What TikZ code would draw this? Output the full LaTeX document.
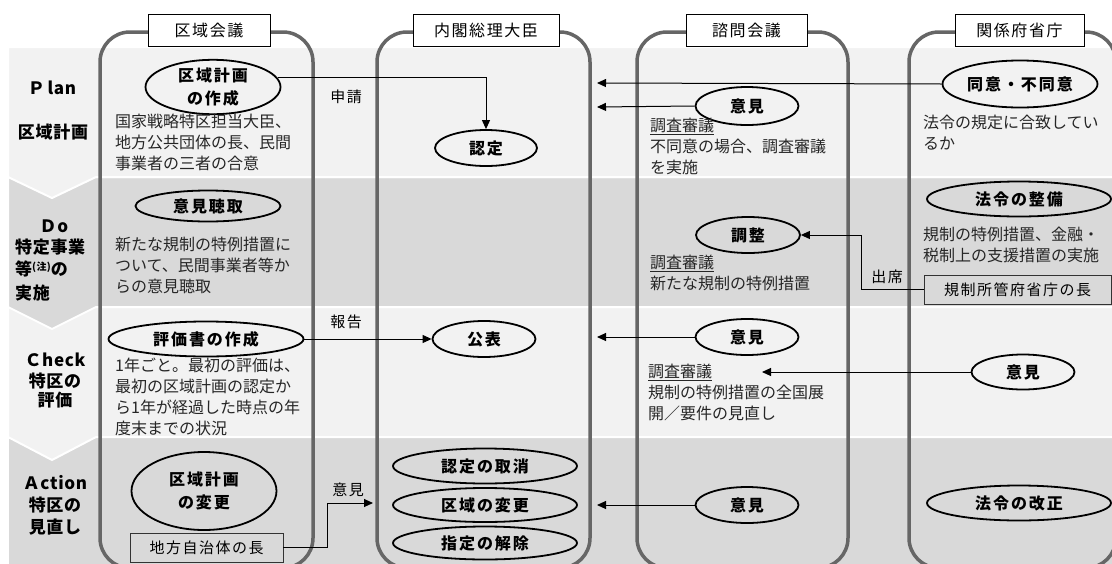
\documentclass[tikz,border=0pt]{standalone}
\usepackage{fontspec}
\setmainfont{Noto Sans CJK JP}
\newfontfamily\jpsp[LetterSpace=10]{Noto Sans CJK JP}
\newfontfamily\jplab[LetterSpace=4]{Noto Sans CJK JP}
\newfontfamily\jpwide[LetterSpace=12]{Noto Sans CJK JP}
\usetikzlibrary{shapes.geometric,arrows.meta}
\definecolor{bandL}{HTML}{F2F2F2}
\definecolor{bandD}{HTML}{D9D9D9}
\definecolor{laneC}{HTML}{666666}
\tikzset{
 lane/.style={draw=laneC,line width=3.5pt,rounded corners=30pt},
 hdr/.style={draw=black,fill=white,line width=0.8pt,minimum height=32pt,inner sep=0pt,font=\jpsp\fontsize{16}{18}\selectfont},
 ell/.style={ellipse,draw=black,line width=1.8pt,inner sep=0pt,font=\jpwide\bfseries\fontsize{16}{23}\selectfont,align=center},
 desc/.style={anchor=north west,inner sep=0pt,align=left,font=\fontsize{16}{21}\selectfont,text=black!85},
 lbl/.style={inner sep=0pt,font=\jplab\bfseries\fontsize{17}{20}\selectfont},
 arr/.style={-{Triangle[length=9pt,width=8pt]},line width=1pt},
 plainbox/.style={draw=black!80,line width=0.8pt,inner sep=0pt,font=\jpsp\fontsize{15}{18}\selectfont},
 conn/.style={font=\jpsp\fontsize{15}{18}\selectfont,inner sep=0pt},
 band/.style={draw=white,line width=2pt},
}
\begin{document}
\begin{tikzpicture}[x=1pt,y=-1pt]
\useasboundingbox (0,0) rectangle (1112,563);
\clip (0,0) rectangle (1112,563);
% bands
\path[band,fill=bandD] (8,437) rectangle (1125,575);
\path[band,fill=bandL] (8,307) -- (1125,307) -- (1125,437) -- (96,437) -- (52,460) -- (8,437) -- cycle;
\path[band,fill=bandD] (8,177) -- (1125,177) -- (1125,307) -- (96,307) -- (52,329) -- (8,307) -- cycle;
\path[band,fill=bandL] (8,47) -- (1125,47) -- (1125,177) -- (96,177) -- (52,198) -- (8,177) -- cycle;
% lanes
\draw[lane] (100,32) rectangle (313,568);
\draw[lane] (377,32) rectangle (590,568);
\draw[lane] (637,32) rectangle (848,568);
\draw[lane] (909,32) rectangle (1116,568);
% headers
\node[hdr,minimum width=122pt] (h1) at (209,30) {区域会議};
\node[hdr,minimum width=146pt] (h2) at (486,30) {内閣総理大臣};
\node[hdr,minimum width=121pt] (h3) at (746.5,30) {諮問会議};
\node[hdr,minimum width=129pt] (h4) at (1019.5,30) {関係府省庁};
% left labels
\node[lbl] (lp1) at (52,88) {Ｐ\,lan};
\node[lbl] (lp2) at (53,132) {区域計画};
\node[lbl] (ld1) at (54,226) {Ｄo};
\node[lbl,anchor=west] (ld2) at (15,247) {特定事業};
\node[lbl,anchor=west] (ld3) at (15,269) {等\raisebox{5pt}{\fontsize{10}{10}\selectfont(注)}の};
\node[lbl,anchor=west] (ld4) at (15,293) {実施};
\node[lbl] (lc1) at (55,360) {Ｃheck};
\node[lbl] (lc2) at (55,381) {特区の};
\node[lbl] (lc3) at (55,400) {評価};
\node[lbl] (la1) at (55,483) {Ａction};
\node[lbl] (la2) at (55,505) {特区の};
\node[lbl] (la3) at (55,527) {見直し};
% Plan
\node[ell,minimum width=135pt,minimum height=47pt] (sakusei) at (213,87) {区域計画\\の作成};
\node[desc] (dp1) at (115,114) {国家戦略特区担当大臣、\\地方公共団体の長、民間\\事業者の三者の合意};
\node[ell,minimum width=102pt,minimum height=36pt] (nintei) at (486,148) {認定};
\node[ell,minimum width=103pt,minimum height=38pt] (ikenp) at (747,106) {意見};
\node[desc] (dp3) at (650,118) {\underline{調査審議}\\不同意の場合、調査審議\\を実施};
\node[ell,minimum width=155pt,minimum height=47pt] (douui) at (1020,84) {同意・不同意};
\node[desc] (dp4) at (923,115) {法令の規定に合致してい\\るか};
\node[conn] (shinsei) at (346,97) {申請};
% Do
\node[ell,minimum width=145pt,minimum height=31pt] (choshu) at (208,206) {意見聴取};
\node[desc] (dd1) at (115,237) {新たな規制の特例措置に\\ついて、民間事業者等か\\らの意見聴取};
\node[ell,minimum width=104pt,minimum height=36pt] (chosei) at (748,235) {調整};
\node[desc] (dd3) at (650,255) {\underline{調査審議}\\新たな規制の特例措置};
\node[ell,minimum width=184pt,minimum height=35pt] (seibi) at (1019,199) {法令の整備};
\node[desc] (dd4) at (923,227) {規制の特例措置、金融・\\税制上の支援措置の実施};
\node[plainbox,fill=bandD,minimum width=187pt,minimum height=29pt] (kisei) at (1017.5,289.5) {規制所管府省庁の長};
\node[conn] (shusseki) at (887,277) {出席};
% Check
\node[ell,minimum width=195pt,minimum height=35pt] (hyoka) at (206,339) {評価書の作成};
\node[desc] (dc1) at (115,358) {1年ごと。最初の評価は、\\最初の区域計画の認定か\\ら1年が経過した時点の年\\度末までの状況};
\node[ell,minimum width=103pt,minimum height=36pt] (kohyo) at (484,339) {公表};
\node[ell,minimum width=103pt,minimum height=36pt] (ikenc) at (747,337) {意見};
\node[desc] (dc3) at (648,364) {\underline{調査審議}\\規制の特例措置の全国展\\開／要件の見直し};
\node[ell,minimum width=103pt,minimum height=35pt] (ikenc4) at (1023,372) {意見};
\node[conn] (hokoku) at (346,322) {報告};
% Action
\node[ell,minimum width=145pt,minimum height=78pt] (henko) at (204,491) {区域計画\\の変更};
\node[plainbox,fill=bandD,minimum width=153pt,minimum height=29pt] (chiho) at (206.5,547.5) {地方自治体の長};
\node[ell,minimum width=184pt,minimum height=35pt] (torikeshi) at (485,466) {認定の取消};
\node[ell,minimum width=184pt,minimum height=34pt] (khenko) at (485,505) {区域の変更};
\node[ell,minimum width=184pt,minimum height=33pt] (kaijo) at (485,543) {指定の解除};
\node[ell,minimum width=103pt,minimum height=36pt] (ikena) at (747,505) {意見};
\node[ell,minimum width=184pt,minimum height=35pt] (kaisei) at (1019,503) {法令の改正};
\node[conn] (ikenlbl) at (348,490) {意見};
% free ends
\coordinate (t1) at (597,83);
\coordinate (t2) at (597,107);
\coordinate (t3) at (597,337);
\coordinate (t4) at (762,372);
\coordinate (t5) at (373,503);
\coordinate (t6) at (597,505);
% connectors
\draw[arr] (sakusei.8) -| (nintei.north);
\draw[arr] (douui.west) -- (t1);
\draw[arr] (ikenp.west) -- (t2);
\draw[arr] (kisei.west) -- ++(-62,0) |- (chosei.east);
\draw[arr] (hyoka.east) -- (kohyo.west);
\draw[arr] (ikenc.west) -- (t3);
\draw[arr] (ikenc4.west) -- (t4);
\draw[arr] (chiho.east) -- ++(44,0) |- (t5);
\draw[arr] (ikena.west) -- (t6);
\end{tikzpicture}
\end{document}
